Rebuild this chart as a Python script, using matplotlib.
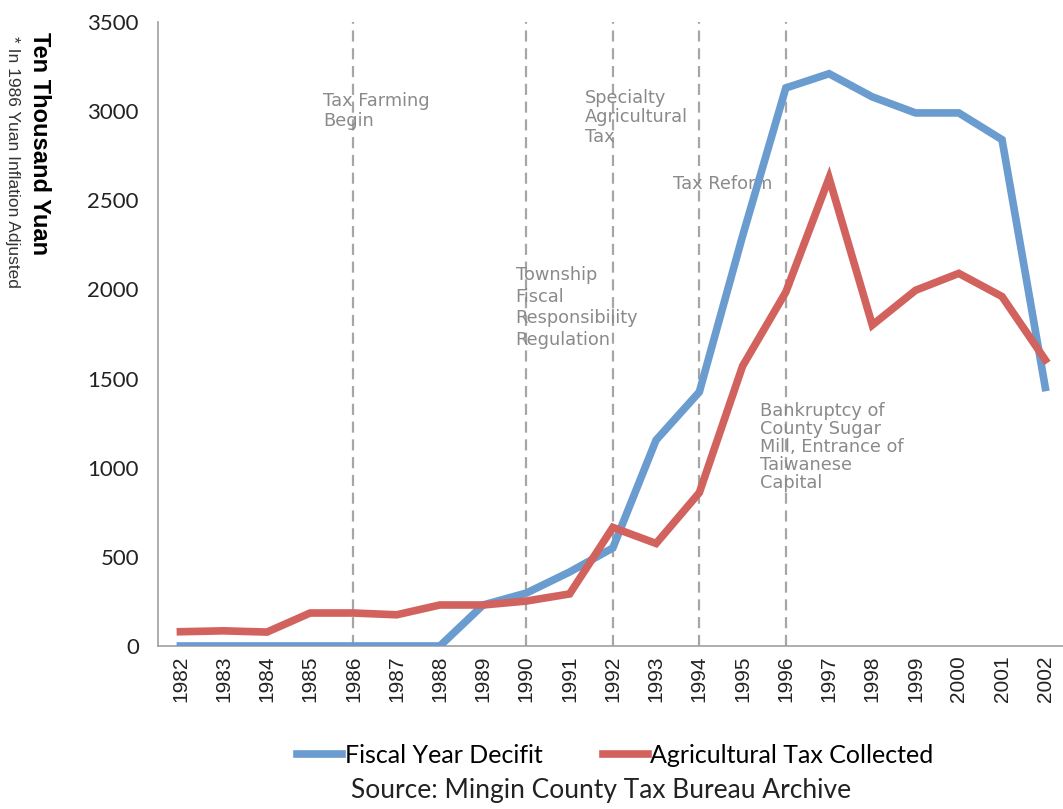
import matplotlib
matplotlib.use("Agg")
import matplotlib.pyplot as plt

years = list(range(1982, 2003))
deficit = [0, 0, 0, 0, 0, 0, 0, 230, 297, 415, 550, 1155, 1425, 2300, 3130,
           3210, 3080, 2990, 2990, 2840, 1450]
ag_tax = [80, 85, 78, 185, 185, 175, 230, 230, 252, 292, 665, 575, 860, 1570,
          1985, 2625, 1800, 1995, 2090, 1960, 1605]

# policy events: year of the dashed line, label, label anchor (x, y)
event_years = [1986, 1990, 1992, 1994, 1996]
event_labels = ["Tax Farming\nBegin",
                "Township\nFiscal\nResponsibility\nRegulation",
                "Specialty\nAgricultural\nTax",
                "Tax Reform",
                "Bankruptcy of\nCounty Sugar\nMill, Entrance of\nTaiwanese\nCapital"]
label_pos = [(1985.3, 3110), (1989.75, 2130), (1991.35, 3125), (1993.4, 2640),
             (1995.4, 1370)]
label_spacing = [1.15, 1.25, 1.1, 1.0, 1.0]

blue = "#6a9ccf"
red = "#d2625d"

fig = plt.figure(figsize=(10.63, 8.09), dpi=100)
ax = fig.add_axes([0.149, 0.2015, 0.851, 0.7713])

for yr in event_years:
    ax.axvline(yr, color="#a6a6a6", lw=1.6, ls=(0, (5, 3)), zorder=1)

for txt, (tx, ty), sp in zip(event_labels, label_pos, label_spacing):
    ax.text(tx, ty, txt, color="#8a8a8a", fontsize=12.8, va="top", ha="left",
            linespacing=sp, family="DejaVu Sans", zorder=2)

l1, = ax.plot(years, deficit, color=blue, lw=5.5, solid_joinstyle="miter",
              zorder=3)
l2, = ax.plot(years, ag_tax, color=red, lw=5.5, solid_joinstyle="miter",
              zorder=3)

ax.set_xlim(1981.49, 2002.41)
ax.set_ylim(0, 3500)
ax.set_xticks(years)
ax.set_xticklabels([str(y) for y in years], rotation=90, fontsize=15,
                   family="Liberation Sans")
ax.set_yticks(range(0, 3501, 500))
ax.set_yticklabels([str(v) for v in range(0, 3501, 500)], fontsize=16,
                   family="Lato")
ax.tick_params(axis="both", length=0, colors="#222222")
ax.tick_params(axis="y", pad=14)
ax.tick_params(axis="x", pad=7)

for s in ["top", "right"]:
    ax.spines[s].set_visible(False)
for s in ["left", "bottom"]:
    ax.spines[s].set_color("#a0a0a0")
    ax.spines[s].set_linewidth(1.2)

fig.text(0.037, 0.823, "Ten Thousand Yuan", rotation=270, fontsize=17,
         fontweight="bold", family="Liberation Sans", ha="center", va="center")
fig.text(0.012, 0.80, "* In 1986 Yuan Inflation Adjusted", rotation=270,
         fontsize=12.5, family=["Liberation Sans Narrow", "Liberation Sans"],
         ha="center", va="center", color="#333333")

fig.legend([l1, l2], ["Fiscal Year Decifit", "Agricultural Tax Collected"],
           loc="center", bbox_to_anchor=(0.579, 0.066), ncol=2, frameon=False,
           handlelength=1.8, handletextpad=0.1, columnspacing=2.4,
           prop={"family": "Lato", "size": 18})
fig.text(0.565, 0.023, "Source: Mingin County Tax Bureau Archive", fontsize=19,
         family="Lato", ha="center", va="center", color="#222222")

fig.savefig("out.png", dpi=100, facecolor="white")
